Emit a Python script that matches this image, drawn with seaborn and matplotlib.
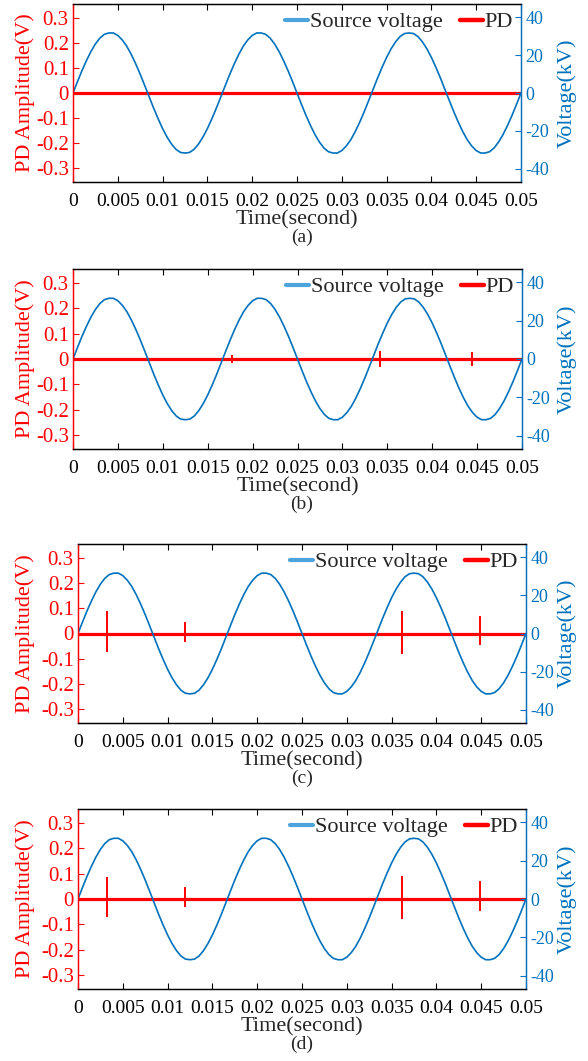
import numpy as np
import pandas as pd
import matplotlib
matplotlib.use("Agg")
import matplotlib.pyplot as plt
import seaborn as sns
from matplotlib.lines import Line2D

# ---- data ----
time_s = np.linspace(0, 0.05, 101)
voltage_kv = [
    0.0, 6.0, 11.8, 17.1, 21.9, 25.9, 29.0, 31.0, 31.7, 31.7,
    30.4, 28.0, 24.7, 20.4, 15.4, 9.9, 4.0, -2.0, -8.0, -13.6,
    -18.8, -23.3, -27.0, -29.8, -31.4, -31.7, -31.4, -29.8, -27.0, -23.3,
    -18.8, -13.6, -8.0, -2.0, 4.0, 9.9, 15.4, 20.4, 24.7, 28.0,
    30.4, 31.7, 31.7, 31.0, 29.0, 25.9, 21.9, 17.1, 11.8, 6.0,
    0.0, -6.0, -11.8, -17.1, -21.9, -25.9, -29.0, -31.0, -31.7, -31.7,
    -30.4, -28.0, -24.7, -20.4, -15.4, -9.9, -4.0, 2.0, 8.0, 13.6,
    18.8, 23.3, 27.0, 29.8, 31.4, 31.7, 31.4, 29.8, 27.0, 23.3,
    18.8, 13.6, 8.0, 2.0, -4.0, -9.9, -15.4, -20.4, -24.7, -28.0,
    -30.4, -31.7, -31.7, -31.0, -29.0, -25.9, -21.9, -17.1, -11.8, -6.0,
    0.0,
]

pd_base_t = [0.0, 0.05]
pd_base_v = [0.0, 0.0]

# PD pulses per panel: time, positive peak, negative peak
pd_a_t, pd_a_up, pd_a_down = [], [], []
pd_b_t = [0.0177, 0.0342, 0.0444]
pd_b_up = [0.014, 0.030, 0.028]
pd_b_down = [-0.014, -0.030, -0.028]
pd_c_t = [0.0032, 0.0119, 0.0362, 0.0449]
pd_c_up = [0.088, 0.046, 0.090, 0.071]
pd_c_down = [-0.072, -0.033, -0.080, -0.046]
pd_d_t, pd_d_up, pd_d_down = pd_c_t, pd_c_up, pd_c_down

panel_tags = ["(a)", "(b)", "(c)", "(d)"]
xtick_vals = [0, 0.005, 0.01, 0.015, 0.02, 0.025, 0.03, 0.035, 0.04, 0.045, 0.05]
xtick_labels = ["0", "0.005", "0.01", "0.015", "0.02", "0.025", "0.03",
                "0.035", "0.04", "0.045", "0.05"]
ltick_vals = [-0.3, -0.2, -0.1, 0, 0.1, 0.2, 0.3]
ltick_labels = ["-0.3", "-0.2", "-0.1", "0", "0.1", "0.2", "0.3"]
rtick_vals = [-40, -20, 0, 20, 40]
rtick_labels = ["-40", "-20", "0", "20", "40"]

sns.set_style("ticks")
plt.rcParams["font.family"] = ["Liberation Serif", "DejaVu Serif"]
plt.rcParams["axes.unicode_minus"] = False

RED = "#FF0000"
BLUE = "#0072BD"
LBLUE = "#4DA3DB"

W, H = 588, 1061
# left, top, right, bottom in pixels
boxes = [(73, 4, 521, 182), (73, 269, 522, 449), (78, 544, 526, 723), (78, 809, 526, 989)]
pulses = [(pd_a_t, pd_a_up, pd_a_down), (pd_b_t, pd_b_up, pd_b_down),
          (pd_c_t, pd_c_up, pd_c_down), (pd_d_t, pd_d_up, pd_d_down)]

fig = plt.figure(figsize=(W / 100, H / 100), dpi=100)
volt_df = pd.DataFrame({"t": time_s, "v": voltage_kv})
base_df = pd.DataFrame({"t": pd_base_t, "v": pd_base_v})

for (l, t, r, b), (pt, pu, pdn), tag in zip(boxes, pulses, panel_tags):
    ax = fig.add_axes([l / W, 1 - b / H, (r - l) / W, (b - t) / H])
    sns.lineplot(data=base_df, x="t", y="v", ax=ax, color=RED, lw=2.3)
    if pt:
        ax.vlines(pt, pdn, pu, color=RED, lw=1.4)
    ax.set_xlim(0, 0.05)
    ax.set_ylim(-0.355, 0.355)
    ax.set_xticks(xtick_vals)
    ax.set_xticklabels(xtick_labels, fontsize=14)
    ax.set_yticks(ltick_vals)
    ax.set_yticklabels(ltick_labels, fontsize=15, color=RED)
    ax.tick_params(axis="x", direction="in", top=True, length=4, pad=8, colors="black")
    ax.tick_params(axis="y", direction="in", length=4, pad=3, colors=RED)
    ax.set_xlabel("Time(second)", fontsize=16, labelpad=0)
    ax.set_ylabel("PD Amplitude(V)", fontsize=16, color=RED)
    ax.yaxis.set_label_coords((35 - l) / (r - l), 0.5)

    ax2 = ax.twinx()
    sns.lineplot(data=volt_df, x="t", y="v", ax=ax2, color=BLUE, lw=1.2)
    ax2.set_ylim(-47, 47)
    ax2.set_yticks(rtick_vals)
    ax2.set_yticklabels(rtick_labels, fontsize=13, color=BLUE)
    ax2.tick_params(axis="y", direction="in", length=4, pad=3, colors=BLUE)
    ax2.set_ylabel("Voltage(kV)", fontsize=16, color=BLUE)
    ax2.yaxis.set_label_coords((557 - l) / (r - l), 0.5)
    ax2.set_xlim(0, 0.05)

    for a in (ax, ax2):
        a.spines["left"].set_color(RED)
        a.spines["right"].set_color(BLUE)
        a.spines["top"].set_color("black")
        a.spines["bottom"].set_color("black")
        for s in a.spines.values():
            s.set_visible(True)
            s.set_linewidth(0.9)

    handles = [Line2D([], [], color=LBLUE, lw=3), Line2D([], [], color=RED, lw=3.2)]
    ax2.legend(handles, ["Source voltage", "PD"], loc="upper right", ncol=2,
               frameon=False, fontsize=16, handlelength=1.0, handletextpad=0.1,
               columnspacing=0.8, borderaxespad=0.25, borderpad=0.1)

    fig.text(302 / W, 1 - (b + 55) / H, tag, fontsize=14, ha="center", va="center")

fig.savefig("out.png", dpi=100)
